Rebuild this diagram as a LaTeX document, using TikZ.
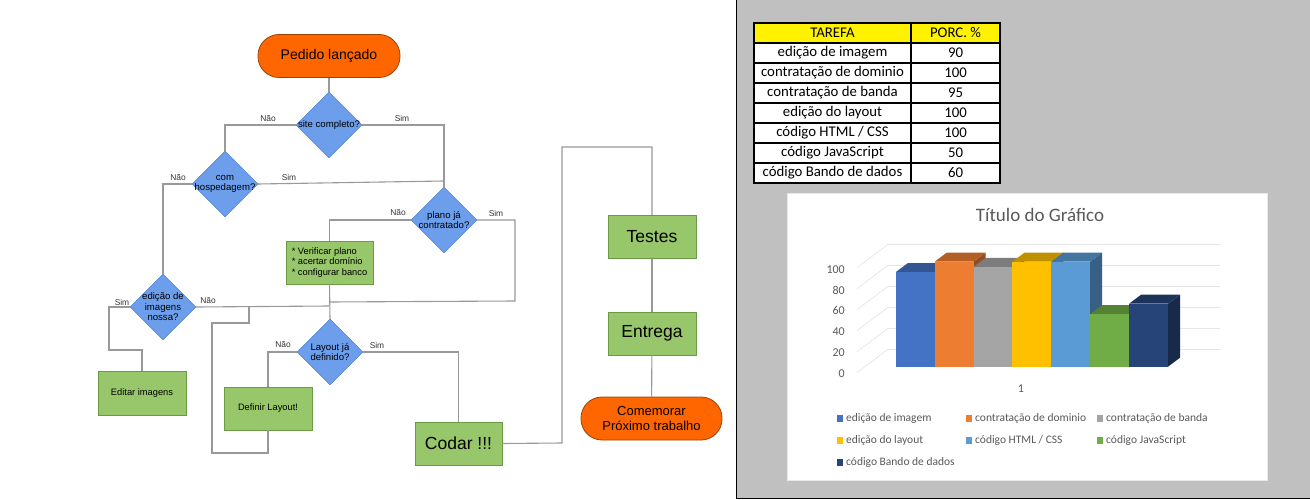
\documentclass[tikz,border=0pt]{standalone}
\usepackage{fontspec}
\setmainfont{Liberation Sans}
\newfontfamily\calibri{Carlito}
\usetikzlibrary{shapes.geometric}

\definecolor{laranja}{HTML}{FF6600}
\definecolor{laranjaesc}{HTML}{A04000}
\definecolor{azul}{HTML}{6D9EEB}
\definecolor{azulesc}{HTML}{3C6FC8}
\definecolor{verde}{HTML}{97C66B}
\definecolor{verdeesc}{HTML}{6B9A45}
\definecolor{cinza}{HTML}{999999}
\definecolor{painel}{HTML}{C0C0C0}
\definecolor{textograf}{HTML}{595959}
\definecolor{grade}{HTML}{D9D9D9}
\definecolor{barA}{HTML}{4472C4}
\definecolor{barB}{HTML}{ED7D31}
\definecolor{barC}{HTML}{A5A5A5}
\definecolor{barD}{HTML}{FFC000}
\definecolor{barE}{HTML}{5B9BD5}
\definecolor{barF}{HTML}{70AD47}
\definecolor{barG}{HTML}{264478}

\begin{document}
\begin{tikzpicture}[x=1pt,y=-1pt]
        \tikzstyle{terminal}=[draw=laranjaesc,fill=laranja,thick,rounded corners=21pt,minimum width=142pt,minimum height=43pt,align=center]
        \tikzstyle{decisao}=[diamond,draw=azulesc,fill=azul,inner sep=0pt,minimum width=66pt,minimum height=66pt]
        \tikzstyle{dtexto}=[font=\fontsize{9.6}{10.5}\selectfont,align=center,inner sep=0pt]
        \tikzstyle{caixa}=[draw=verdeesc,fill=verde,thick,minimum width=88pt,minimum height=43pt,align=center,font=\fontsize{9.3}{10.8}\selectfont]
        \tikzstyle{grande}=[font=\fontsize{17.5}{20}\selectfont]
        \tikzstyle{linha}=[draw=cinza,line width=1.1pt]
        \tikzstyle{rotulo}=[font=\fontsize{8.4}{9}\selectfont,text=black!80,inner sep=0pt]
        \tikzstyle{celula}=[font=\calibri\fontsize{14.8}{16}\selectfont,inner sep=0pt]
        \tikzstyle{legenda}=[font=\calibri\fontsize{11.5}{13}\selectfont,text=textograf,inner sep=0pt]

        \useasboundingbox (0,0) rectangle (1310,500);
        \fill[white] (0,0) rectangle (736,500);
        \fill[painel] (736,0) rectangle (1310,499);
        \draw[black,line width=1.5pt] (736.5,0) -- (736.5,498.5) -- (1310,498.5);

        \node (pedido)[terminal,font=\fontsize{14}{16}\selectfont] at (329,56) {Pedido lançado};
        \node (site)[decisao,label={[dtexto]center:site completo?}] at (329,125) {};
        \node (hosp)[decisao,label={[dtexto]center:com\\hospedagem?}] at (225,184) {};
        \node (plano)[decisao,label={[dtexto]center:plano já\\contratado?}] at (444,220) {};
        \node (verif)[caixa,minimum width=87pt,align=left] at (329.5,262.5) {* Verificar plano\\* acertar domínio\\* configurar banco};
        \node (edic)[decisao,label={[dtexto]center:edição de\\imagens\\nossa?}] at (163,307) {};
        \node (editar)[caixa,minimum height=44pt] at (142,393) {Editar imagens};
        \node (layout)[decisao,label={[dtexto]center:Layout já\\definido?}] at (330,352) {};
        \node (defin)[caixa] at (268,408.5) {Definir Layout!};
        \node (codar)[caixa,grande,minimum width=87pt] at (458.5,443.5) {Codar !!!};
        \node (testes)[caixa,grande] at (652,237) {Testes};
        \node (entrega)[caixa,grande] at (652,333.5) {Entrega};
        \node (comem)[terminal,minimum width=141pt,font=\fontsize{13}{15}\selectfont] at (651.5,418.5) {Comemorar\\Próximo trabalho};

        \coordinate (j1) at (444,181);
        \coordinate (j2) at (329.5,302);
        \coordinate (j3) at (329.5,306);
        \coordinate (j4) at (249,306.5);

        \draw[linha] (pedido) -- (site);
        \draw[linha] (site.west) -| (hosp.north);
        \draw[linha] (site.east) -| (plano.north);
        \draw[linha] (hosp.east) -- (j1);
        \draw[linha] (hosp.west) -| (edic.north);
        \draw[linha] (plano.west) -| (verif.north);
        \draw[linha] (plano.east) -| (515,301) -- (j2);
        \draw[linha] (verif.south) -- (layout.north);
        \draw[linha] (edic.east) -- (j3);
        \draw[linha] (j4) -- (249,323) -| (212,453) -| (defin.south);
        \draw[linha] (edic.west) -| (109,350) -| (editar.north);
        \draw[linha] (layout.west) -| (defin.north);
        \draw[linha] (layout.east) -| (codar.north);
        \draw[linha] (codar.east) -- (562,443) -- (562,147) -| (testes.north);
        \draw[linha] (testes) -- (entrega);
        \draw[linha] (entrega) -- (comem);

        \node (nao1)[rotulo] at (268,119) {Não};
        \node (sim1)[rotulo] at (402,118) {Sim};
        \node (nao2)[rotulo] at (178,178) {Não};
        \node (sim2)[rotulo] at (289,177) {Sim};
        \node (nao3)[rotulo] at (398,213) {Não};
        \node (sim3)[rotulo] at (496,213) {Sim};
        \node (sim4)[rotulo] at (122,302) {Sim};
        \node (nao4)[rotulo] at (208,301) {Não};
        \node (nao5)[rotulo] at (283,345) {Não};
        \node (sim5)[rotulo] at (377,345) {Sim};

        \fill[yellow] (754,23) rectangle (1000,43);
        \fill[white] (754,43) rectangle (1000,183);
        \foreach \y in {43,63,...,163}
            \draw[line width=1.3pt] (754,\y) -- (1000,\y);
        \draw[line width=1.3pt] (754,23) rectangle (1000,183);
        \draw[line width=1.3pt] (911,23) -- (911,183);
        \foreach \tar/\pct [count=\k] in {TAREFA/PORC. \%, edição de imagem/90, contratação de dominio/100, contratação de banda/95, edição do layout/100, {código HTML / CSS}/100, código JavaScript/50, código Bando de dados/60}{
            \node (tar\k)[celula] at (832.5,13+20*\k) {\tar};
            \node (pct\k)[celula] at (955.5,13+20*\k) {\pct};
        }

        \fill[white] (787,193) rectangle (1267,480);
        \draw[grade!60!white] (787,193) rectangle (1267,480);
        \node (titulo)[font=\calibri\fontsize{19}{22}\selectfont,text=textograf] at (1040,215) {Título do Gráfico};
        \foreach \v in {0,20,...,100}{
            \draw[grade] (857,372.7-1.05*\v) -- (888,349.3-1.05*\v) -- (1220,349.3-1.05*\v);
            \node (ey\v)[legenda,anchor=east,font=\calibri\fontsize{12}{14}\selectfont] at (845,373.3-1.04*\v) {\v};
        }
        \foreach \val/\cor [count=\i from 0] in {90/barA,100/barB,95/barC,100/barD,100/barE,50/barF,60/barG}{
            \pgfmathsetmacro\xa{895.7+38.9*\i}
            \pgfmathsetmacro\xb{\xa+38.9}
            \pgfmathsetmacro\ya{366.7-1.05*\val}
            \fill[\cor!62!black] (\xb,366.7) -- (\xb+12,357.7) -- (\xb+12,\ya-9) -- (\xb,\ya) -- cycle;
            \fill[\cor!75!black] (\xa,\ya) -- (\xa+12,\ya-9) -- (\xb+12,\ya-9) -- (\xb,\ya) -- cycle;
            \fill[\cor] (\xa,366.7) rectangle (\xb,\ya);
        }
        \node (eixo)[legenda,font=\calibri\fontsize{12}{14}\selectfont] at (1021,389) {1};
        \foreach \nome/\cor/\x/\y [count=\k] in {edição de imagem/barA/846/418, contratação de dominio/barB/975/418, contratação de banda/barC/1106/418, edição do layout/barD/846/440, {código HTML / CSS}/barE/975/440, código JavaScript/barF/1106/440, código Bando de dados/barG/846/462}{
            \fill[\cor] (\x-9,\y-3.5) rectangle (\x-3.5,\y+3.5);
            \node (leg\k)[legenda,anchor=west] at (\x,\y) {\nome};
        }
\end{tikzpicture}
\end{document}
